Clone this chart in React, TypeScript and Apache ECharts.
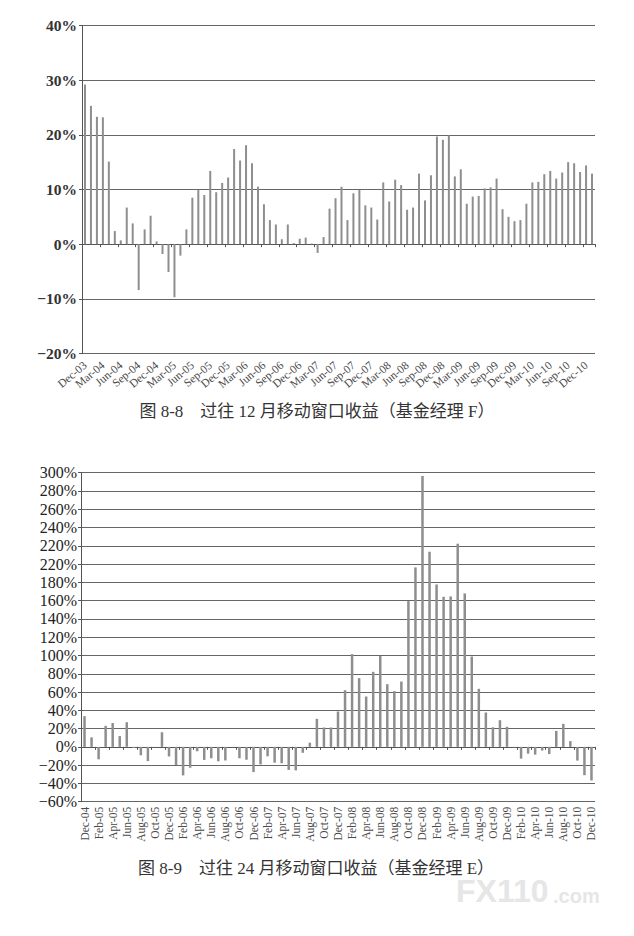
import React, { useEffect, useRef } from 'react';
import * as echarts from 'echarts';

// ---------- Figure 8-8 : 12-month rolling return, fund manager F ----------
const fundFCategories = [
  'Dec-03',
  'Jan-04', 'Feb-04', 'Mar-04', 'Apr-04', 'May-04', 'Jun-04', 'Jul-04', 'Aug-04', 'Sep-04', 'Oct-04', 'Nov-04', 'Dec-04',
  'Jan-05', 'Feb-05', 'Mar-05', 'Apr-05', 'May-05', 'Jun-05', 'Jul-05', 'Aug-05', 'Sep-05', 'Oct-05', 'Nov-05', 'Dec-05',
  'Jan-06', 'Feb-06', 'Mar-06', 'Apr-06', 'May-06', 'Jun-06', 'Jul-06', 'Aug-06', 'Sep-06', 'Oct-06', 'Nov-06', 'Dec-06',
  'Jan-07', 'Feb-07', 'Mar-07', 'Apr-07', 'May-07', 'Jun-07', 'Jul-07', 'Aug-07', 'Sep-07', 'Oct-07', 'Nov-07', 'Dec-07',
  'Jan-08', 'Feb-08', 'Mar-08', 'Apr-08', 'May-08', 'Jun-08', 'Jul-08', 'Aug-08', 'Sep-08', 'Oct-08', 'Nov-08', 'Dec-08',
  'Jan-09', 'Feb-09', 'Mar-09', 'Apr-09', 'May-09', 'Jun-09', 'Jul-09', 'Aug-09', 'Sep-09', 'Oct-09', 'Nov-09', 'Dec-09',
  'Jan-10', 'Feb-10', 'Mar-10', 'Apr-10', 'May-10', 'Jun-10', 'Jul-10', 'Aug-10', 'Sep-10', 'Oct-10', 'Nov-10', 'Dec-10',
  'Jan-11',
];

const fundFReturns = [
  29.2,
  25.3, 23.3, 23.2, 15.1, 2.4, 0.7, 6.7, 3.8, -8.4, 2.7, 5.2, 0.5,
  -1.8, -5.1, -9.7, -2.1, 2.7, 8.5, 9.9, 9.0, 13.4, 9.5, 11.2, 12.2,
  17.4, 15.3, 18.1, 14.8, 10.5, 7.3, 4.4, 3.6, 0.9, 3.6, 0.2, 1.0,
  1.2, 0.1, -1.6, 1.3, 6.5, 8.4, 10.5, 4.4, 9.3, 9.9, 7.1, 6.7,
  4.5, 11.3, 7.8, 11.8, 10.8, 6.3, 6.7, 12.9, 8.0, 12.6, 19.7, 19.1,
  19.9, 12.4, 13.7, 7.4, 8.7, 8.8, 10.2, 10.4, 12.0, 6.4, 5.0, 4.2,
  4.4, 7.4, 11.3, 11.4, 12.8, 13.4, 12.0, 13.1, 15.0, 14.8, 13.2, 14.4,
  12.9,
];

const fundFYLabels = ['−20%', '−10%', '0%', '10%', '20%', '30%', '40%'];
const fundFYMin = -20;
const fundFYMax = 40;
const fundFYStep = 10;
const fundFLabelEvery = 3;

// ---------- Figure 8-9 : 24-month rolling return, fund manager E ----------
const fundECategories = [
  'Dec-04',
  'Jan-05', 'Feb-05', 'Mar-05', 'Apr-05', 'May-05', 'Jun-05', 'Jul-05', 'Aug-05', 'Sep-05', 'Oct-05', 'Nov-05', 'Dec-05',
  'Jan-06', 'Feb-06', 'Mar-06', 'Apr-06', 'May-06', 'Jun-06', 'Jul-06', 'Aug-06', 'Sep-06', 'Oct-06', 'Nov-06', 'Dec-06',
  'Jan-07', 'Feb-07', 'Mar-07', 'Apr-07', 'May-07', 'Jun-07', 'Jul-07', 'Aug-07', 'Sep-07', 'Oct-07', 'Nov-07', 'Dec-07',
  'Jan-08', 'Feb-08', 'Mar-08', 'Apr-08', 'May-08', 'Jun-08', 'Jul-08', 'Aug-08', 'Sep-08', 'Oct-08', 'Nov-08', 'Dec-08',
  'Jan-09', 'Feb-09', 'Mar-09', 'Apr-09', 'May-09', 'Jun-09', 'Jul-09', 'Aug-09', 'Sep-09', 'Oct-09', 'Nov-09', 'Dec-09',
  'Jan-10', 'Feb-10', 'Mar-10', 'Apr-10', 'May-10', 'Jun-10', 'Jul-10', 'Aug-10', 'Sep-10', 'Oct-10', 'Nov-10', 'Dec-10',
];

const fundEReturns = [
  33.6,
  10.4, -13.6, 23.0, 26.1, 11.8, 26.8, -1.2, -9.2, -15.5, -0.4, 16.0, -10.5,
  -19.8, -31.2, -22.8, -4.8, -14.3, -12.5, -15.8, -14.9, -0.4, -12.5, -14.1, -27.6,
  -19.2, -10.3, -17.3, -17.9, -25.2, -25.7, -6.5, 4.6, 30.7, 21.2, 21.2, 38.7,
  62.0, 101.5, 75.2, 55.1, 82.1, 99.6, 68.6, 61.0, 71.5, 159.5, 196.4, 296.4,
  213.5, 177.7, 164.2, 164.6, 222.3, 167.9, 98.9, 63.5, 37.6, 21.4, 29.2, 22.0,
  -0.6, -12.9, -7.4, -8.5, -4.0, -7.9, 17.5, 25.2, 6.3, -15.0, -31.0, -36.8,
];

// tick labels exactly as printed (the 200% line is printed as "220%")
const fundEYLabels = [
  '−60%', '−40%', '−20%', '0%', '20%', '40%', '60%', '80%', '100%', '120%',
  '140%', '160%', '180%', '220%', '220%', '240%', '260%', '280%', '300%',
];
const fundEYMin = -60;
const fundEYMax = 300;
const fundEYStep = 20;
const fundELabelEvery = 2;

const caption1 = '图 8-8　过往 12 月移动窗口收益（基金经理 F）';
const caption2 = '图 8-9　过往 24 月移动窗口收益（基金经理 E）';
const watermarkMain = 'FX110';
const watermarkTail = '.com';

export default function App() {
  const ref = useRef<HTMLDivElement>(null);

  useEffect(() => {
    if (!ref.current) return;
    const chart = echarts.init(ref.current, null, { renderer: 'svg' });
    const serif = "'Liberation Serif', 'Times New Roman', serif";
    const cjk = "'Liberation Serif', 'Noto Sans CJK SC', serif";
    const gridColor = '#666';
    const axisColor = '#555';
    const barColor = '#8e8e8e';

    const labelAxis = (
      gridIndex: number,
      data: string[],
      every: number,
      rotate: number,
      fontSize: number,
      margin: number,
    ) => ({
      type: 'category',
      gridIndex,
      data,
      position: 'bottom',
      boundaryGap: true,
      axisLine: { show: false, onZero: false },
      axisTick: { show: false },
      splitLine: { show: false },
      axisLabel: {
        interval: 0,
        rotate,
        fontSize,
        fontFamily: serif,
        color: '#4a4a4a',
        margin,
        formatter: (v: string, i: number) => (i % every === 0 ? v : ''),
      },
    });

    const zeroAxis = (gridIndex: number, data: string[], every: number) => ({
      type: 'category',
      gridIndex,
      data,
      position: 'bottom',
      boundaryGap: true,
      axisLine: { show: true, onZero: true, lineStyle: { color: axisColor, width: 1 } },
      axisTick: { show: true, interval: every - 1, length: 3, lineStyle: { color: axisColor } },
      axisLabel: { show: false },
      splitLine: { show: false },
    });

    chart.setOption({
      animation: false,
      backgroundColor: '#ffffff',
      grid: [
        { left: 82, top: 25.5, width: 513, height: 328, containLabel: false },
        { left: 81, top: 472.7, width: 514, height: 329, containLabel: false },
      ],
      xAxis: [
        labelAxis(0, fundFCategories, fundFLabelEvery, 40, 11.5, 10),
        zeroAxis(0, fundFCategories, fundFLabelEvery),
        labelAxis(1, fundECategories, fundELabelEvery, 90, 11.5, 5),
        zeroAxis(1, fundECategories, fundELabelEvery),
      ],
      yAxis: [
        {
          type: 'value',
          gridIndex: 0,
          min: fundFYMin,
          max: fundFYMax,
          interval: fundFYStep,
          axisLine: { show: true, lineStyle: { color: axisColor } },
          axisTick: { show: true, length: 3, lineStyle: { color: axisColor } },
          splitLine: { show: true, lineStyle: { color: gridColor, width: 1 } },
          axisLabel: {
            fontSize: 15.5,
            fontWeight: 'bold',
            fontFamily: serif,
            color: '#333',
            margin: 5,
            formatter: (v: number) => fundFYLabels[Math.round((v - fundFYMin) / fundFYStep)] ?? '',
          },
        },
        {
          type: 'value',
          gridIndex: 1,
          min: fundEYMin,
          max: fundEYMax,
          interval: fundEYStep,
          axisLine: { show: true, lineStyle: { color: axisColor } },
          axisTick: { show: true, length: 3, lineStyle: { color: axisColor } },
          splitLine: { show: true, lineStyle: { color: gridColor, width: 1 } },
          axisLabel: {
            fontSize: 16,
            fontFamily: serif,
            color: '#222',
            margin: 4,
            formatter: (v: number) => fundEYLabels[Math.round((v - fundEYMin) / fundEYStep)] ?? '',
          },
        },
      ],
      series: [
        {
          type: 'bar',
          name: 'F',
          xAxisIndex: 0,
          yAxisIndex: 0,
          data: fundFReturns,
          barWidth: 2,
          itemStyle: { color: barColor },
        },
        {
          type: 'bar',
          name: 'E',
          xAxisIndex: 2,
          yAxisIndex: 1,
          data: fundEReturns,
          barWidth: 2.5,
          itemStyle: { color: barColor },
        },
      ],
      graphic: [
        {
          type: 'text',
          x: 317,
          y: 411,
          style: {
            text: caption1,
            fontSize: 17,
            fontFamily: cjk,
            fill: '#333',
            textAlign: 'center',
            textVerticalAlign: 'middle',
          },
        },
        {
          type: 'text',
          x: 316,
          y: 868,
          style: {
            text: caption2,
            fontSize: 17,
            fontFamily: cjk,
            fill: '#333',
            textAlign: 'center',
            textVerticalAlign: 'middle',
          },
        },
        {
          type: 'text',
          x: 456,
          y: 891,
          style: {
            text: watermarkMain,
            fontSize: 32,
            fontWeight: 'bold',
            fontFamily: "'Liberation Sans', Arial, sans-serif",
            fill: '#e6e6e6',
            textAlign: 'left',
            textVerticalAlign: 'middle',
          },
        },
        {
          type: 'text',
          x: 553,
          y: 896,
          style: {
            text: watermarkTail,
            fontSize: 20,
            fontWeight: 'bold',
            fontFamily: "'Liberation Sans', Arial, sans-serif",
            fill: '#e6e6e6',
            textAlign: 'left',
            textVerticalAlign: 'middle',
          },
        },
      ],
    });

    return () => chart.dispose();
  }, []);

  return (
    <div
      ref={ref}
      style={{ position: 'fixed', left: 0, top: 0, width: 634, height: 936, background: '#fff' }}
    />
  );
}
